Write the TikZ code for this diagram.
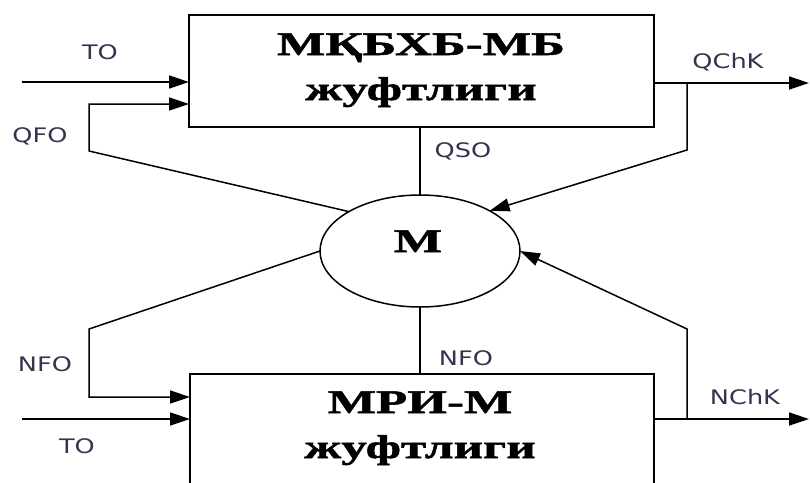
\documentclass[tikz,border=0pt]{standalone}
\usepackage{fontspec}
\usetikzlibrary{arrows.meta,shapes.geometric}
\newfontfamily\labfont[FakeStretch=1.28]{DejaVu Sans}
\newfontfamily\boxfont[FakeStretch=1.55,FakeBold=1.6]{Liberation Serif Bold}
\definecolor{labc}{RGB}{55,50,80}
\begin{document}
\begin{tikzpicture}[x=1pt,y=-1pt, line width=1.5pt,
  >={Triangle[length=20pt,width=13pt]},
  lab/.style={font=\labfont\fontsize{20}{24}\selectfont, text=labc, inner sep=0pt},
  big/.style={font=\boxfont\fontsize{33}{40}\selectfont, inner sep=0pt, anchor=base},
  blk/.style={draw, rectangle, inner sep=0pt, outer sep=0pt, anchor=north west},
  circ/.style={draw, ellipse, inner sep=0pt, outer sep=0pt, minimum width=200pt, minimum height=112pt}]
\useasboundingbox (0,0) rectangle (810,482);
\clip (0,0) rectangle (810,482);
% blocks
\node[blk, minimum width=465pt, minimum height=112pt] (top) at (189,15) {};
\node[blk, minimum width=464pt, minimum height=130pt] (bot) at (190,374) {};
\node[circ] (M) at (420,251) {};
% block texts
\node[big] (top1) at (421,55) {МҚБХБ-МБ};
\node[big] (top2) at (421,100) {жуфтлиги};
\node[big] (bot1) at (420,413) {МРИ-М};
\node[big] (bot2) at (420,458) {жуфтлиги};
\node[big] (mt) at (418,252) {М};
% labels
\node[lab] (lTO1) at (100,52) {TO};
\node[lab] (lQFO) at (40,136) {QFO};
\node[lab] (lQSO) at (463,151) {QSO};
\node[lab] (lQChK) at (728,62) {QChK};
\node[lab] (lNFO1) at (45,364) {NFO};
\node[lab] (lNFO2) at (466,358) {NFO};
\node[lab] (lTO2) at (77,446) {TO};
\node[lab] (lNChK) at (745,397) {NChK};
% coordinates
\coordinate (tin1) at (22,82);
\coordinate (qfo) at (89,151);
\coordinate (qfoA) at (89,104);
\coordinate (nfo) at (89,329);
\coordinate (nfoA) at (89,397);
\coordinate (tin2) at (22,419);
\coordinate (qout) at (809,83);
\coordinate (qbr) at (687,150);
\coordinate (nout) at (809,419);
\coordinate (nbr) at (687,329);
% connectors
\draw[->] (tin1) -- (tin1 -| top.west);
\draw[->] (M.151) -- (qfo) -- (qfoA) -- (qfoA -| top.west);
\draw (M.north) -- (M.north |- top.south);
\draw (M.south) -- (M.south |- bot.north);
\draw[->] (M.west) -- (nfo) -- (nfoA) -- (nfoA -| bot.west);
\draw[->] (tin2) -- (tin2 -| bot.west);
\draw[->] (top.east |- qout) -- (qout);
\draw[->] (qbr |- qout) -- (qbr) -- (M.30);
\draw[->] (bot.east |- nout) -- (nout);
\draw[->] (nbr |- nout) -- (nbr) -- (M.east);
\end{tikzpicture}
\end{document}
